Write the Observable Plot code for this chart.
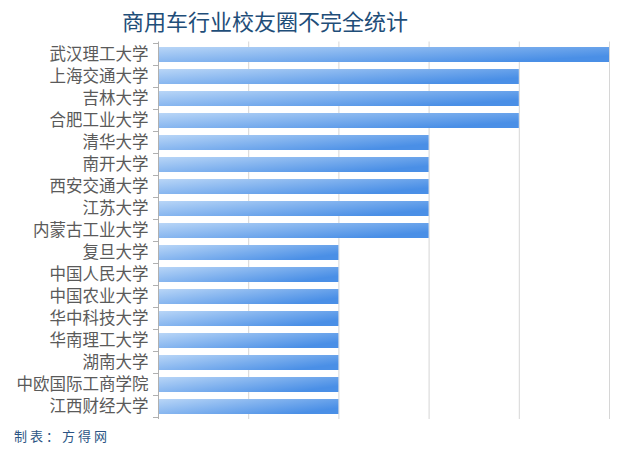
<!DOCTYPE html>
<html>
<head>
<meta charset="utf-8">
<script src="https://cdn.jsdelivr.net/npm/d3@7"></script>
<script src="https://cdn.jsdelivr.net/npm/@observablehq/plot@0.6"></script>
<style>
  html, body { margin: 0; padding: 0; background: #fff; width: 640px; height: 452px; overflow: hidden; }
  #title { height: 38px; line-height: 40px; text-align: left; padding-left: 122px; font-family: "Noto Sans CJK SC", sans-serif; font-size: 22px; color: #1f4e79; }
  #chart svg { display: block; }
  #caption { height: 28px; line-height: 24px; padding-left: 14px; font-family: "Noto Sans CJK SC", sans-serif; font-size: 13px; letter-spacing: 3px; color: #2c5585; }
</style>
</head>
<body>
<div id="title">商用车行业校友圈不完全统计</div>
<div id="chart"></div>
<div id="caption">制表：方得网</div>
<script>
const schools = ["武汉理工大学","上海交通大学","吉林大学","合肥工业大学","清华大学","南开大学","西安交通大学","江苏大学","内蒙古工业大学","复旦大学","中国人民大学","中国农业大学","华中科技大学","华南理工大学","湖南大学","中欧国际工商学院","江西财经大学"];
const counts = [5,4,4,4,3,3,3,3,3,2,2,2,2,2,2,2,2];
const gridTicks = [1,2,3,4,5];

const data = schools.map((s, i) => ({school: s, count: counts[i]}));

const chart = Plot.plot({
  width: 640,
  height: 386,
  marginTop: 3.5,
  marginBottom: 5,
  marginLeft: 158,
  marginRight: 31,
  style: {fontFamily: "Noto Sans CJK SC, sans-serif", background: "#fff"},
  x: {domain: [0, 5], axis: null},
  y: {domain: schools, paddingInner: 0.32, paddingOuter: 0.16, label: null, axis: null},
  marks: [
    Plot.ruleX(gridTicks, {stroke: "#d6d6d6", strokeWidth: 1, strokeOpacity: 1}),
    Plot.barX(data, {y: "school", x: "count", fill: "url(#barGrad)"}),
    Plot.ruleX([0], {stroke: "#b0b0b0"}),
    Plot.axisY({tickSize: 0, tickPadding: 10, fontSize: 16.5, fill: "#5a5a5a", label: null}),
    Plot.tickY(schools, {y: d => d, stroke: "#b0b0b0", render(index, scales, values, dimensions, context, next) {
      const g = d3.create("svg:g");
      const bw = scales.y.bandwidth();
      const st = scales.y.step();
      const x0 = scales.x(0);
      const idx = Array.from(index);
      const ys = idx.map(i => scales.y(schools[i]) - (st - bw) / 2);
      ys.push(scales.y(schools[idx[idx.length - 1]]) + bw + (st - bw) / 2);
      for (const y of ys) {
        g.append("line").attr("x1", x0 - 5).attr("x2", x0).attr("y1", y).attr("y2", y).attr("stroke", "#b0b0b0");
      }
      return g.node();
    }})
  ]
});

const defs = d3.select(chart).insert("defs", ":first-child");
const grad = defs.append("linearGradient").attr("id", "barGrad").attr("x1", "0").attr("y1", "0").attr("x2", "1").attr("y2", "0.6");
grad.append("stop").attr("offset", "0%").attr("stop-color", "#b9d6f7");
grad.append("stop").attr("offset", "100%").attr("stop-color", "#4a8fe6");

document.getElementById("chart").appendChild(chart);
</script>
</body>
</html>
